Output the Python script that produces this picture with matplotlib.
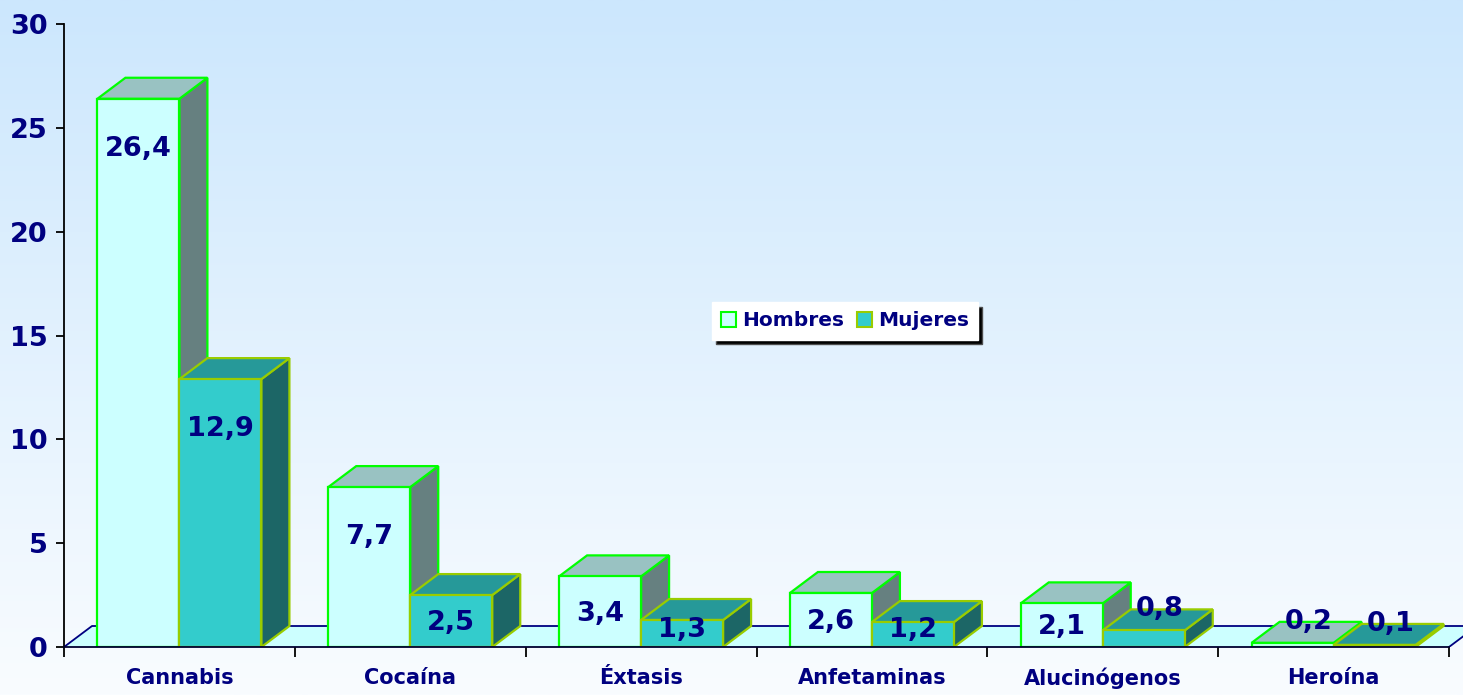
import numpy as np
import matplotlib.pyplot as plt
from matplotlib.patches import Polygon, Patch

plt.rcParams['font.family'] = ['DejaVu Sans']
plt.rcParams['font.weight'] = 'bold'

categories = ['Cannabis', 'Cocaína', 'Éxtasis', 'Anfetaminas', 'Alucinógenos', 'Heroína']
hombres = [26.4, 7.7, 3.4, 2.6, 2.1, 0.2]
mujeres = [12.9, 2.5, 1.3, 1.2, 0.8, 0.1]
yticks = [0, 5, 10, 15, 20, 25, 30]

NAVY = '#000080'
# face colours: front, top, side, edge
H_COL = ('#CCFFFF', '#99C2C2', '#668080', '#00FF00')
M_COL = ('#33CCCC', '#269999', '#1C6666', '#99CC00')

W, H = 1463, 695
fig = plt.figure(figsize=(W / 100, H / 100), dpi=100)

# background gradient
bg = fig.add_axes([0, 0, 1, 1], zorder=-1)
grad = np.linspace(0, 1, 256)[:, None]
top = np.array([204, 231, 253]) / 255
bot = np.array([249, 252, 255]) / 255
img = top[None, None, :] * (1 - grad[..., None]) + bot[None, None, :] * grad[..., None]
bg.imshow(img, aspect='auto', extent=[0, 1, 0, 1])
bg.axis('off')

cat_px = (1449 - 64) / 6
ax = fig.add_axes([64 / W, 48 / H, (W - 64) / W, 623 / H])
ax.set_facecolor('none')
ax.set_xlim(0, (W - 64) / cat_px)
ax.set_ylim(0, 30)

px_per_unit = 623 / 30
dx = 28 / cat_px
dy = 21 / px_per_unit
bw = 82 / cat_px
n = len(categories)

# floor
floor = Polygon([(0, 0), (n, 0), (n + dx, dy), (dx, dy)], closed=True,
                facecolor='#CCFFFF', edgecolor='none', zorder=1)
ax.add_patch(floor)
ax.plot([0, dx, n + dx], [0, dy, dy], color=NAVY, lw=1.3, zorder=1.5)
ax.plot([n, n + dx], [0, dy], color=NAVY, lw=1.3, zorder=1.5)


def box(x0, h, cols, z):
    front, topc, side, edge = cols
    kw = dict(closed=True, edgecolor=edge, lw=1.6, joinstyle='miter', zorder=z)
    ax.add_patch(Polygon([(x0 + bw, 0), (x0 + bw + dx, dy), (x0 + bw + dx, h + dy), (x0 + bw, h)],
                         facecolor=side, **kw))
    ax.add_patch(Polygon([(x0, h), (x0 + bw, h), (x0 + bw + dx, h + dy), (x0 + dx, h + dy)],
                         facecolor=topc, **kw))
    ax.add_patch(Polygon([(x0, 0), (x0 + bw, 0), (x0 + bw, h), (x0, h)],
                         facecolor=front, **kw))


def label(xc, v):
    if v < 1:
        x, y = xc + 0.07, v + dy
    elif v < 5:
        x, y = xc, max(v * 0.47, 0.82)
    else:
        x, y = xc, v - 2.4
    ax.text(x, y, f'{v:.1f}'.replace('.', ','), ha='center', va='center',
            fontsize=19.5, fontweight='bold', color=NAVY, zorder=20)


for i in range(n):
    xh = i + 0.5 - bw
    xm = i + 0.5
    box(xh, hombres[i], H_COL, 3 + 2 * i)
    box(xm, mujeres[i], M_COL, 4 + 2 * i)
    label(xh + bw / 2, hombres[i])
    label(xm + bw / 2, mujeres[i])

# axes styling
for s in ['top', 'right']:
    ax.spines[s].set_visible(False)
ax.spines['left'].set_bounds(0, 30)
ax.spines['bottom'].set_bounds(0, n)
ax.spines['left'].set_linewidth(1.3)
ax.spines['bottom'].set_color('#000030')
ax.spines['bottom'].set_linewidth(1.3)
ax.spines['bottom'].set_zorder(30)

ax.set_yticks(yticks)
ax.set_yticklabels([str(t) for t in yticks], fontsize=19.5, fontweight='bold', color=NAVY)
ax.tick_params(axis='y', length=6, width=1.3, pad=6)

ax.set_xticks(np.arange(n + 1))
ax.set_xticklabels([])
ax.tick_params(axis='x', which='major', length=7, width=1.3, direction='out')
ax.set_xticks(np.arange(n) + 0.5, minor=True)
ax.set_xticklabels(categories, minor=True, fontsize=15, fontweight='bold', color=NAVY)
ax.tick_params(axis='x', which='minor', length=0, pad=15)

handles = [Patch(facecolor=H_COL[0], edgecolor=H_COL[3], lw=1.5),
           Patch(facecolor=M_COL[0], edgecolor=M_COL[3], lw=1.5)]
leg = fig.legend(handles, ['Hombres', 'Mujeres'], loc='center',
                 bbox_to_anchor=(845 / W, 1 - 321 / H), ncol=2,
                 prop=dict(weight='bold', size=14.5), labelcolor=NAVY,
                 frameon=True, fancybox=False, framealpha=1, edgecolor='white',
                 shadow={'facecolor': 'black', 'alpha': 1, 'ox': 3, 'oy': -3},
                 handlelength=0.75, handleheight=0.75, handletextpad=0.3,
                 columnspacing=0.6, borderpad=0.45, borderaxespad=0)

fig.savefig('out.png', dpi=100)
